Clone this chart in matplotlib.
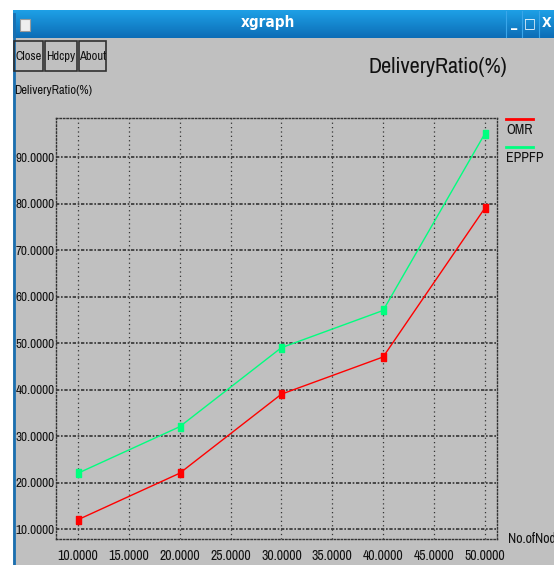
import matplotlib
matplotlib.use('Agg')
import matplotlib.pyplot as plt
import numpy as np
from matplotlib import font_manager as fm
from matplotlib.patches import Rectangle

nodes = [10, 20, 30, 40, 50]
omr = [12, 22, 39, 47, 79]
eppfp = [22, 32, 49, 57, 95]
xticks = [10, 15, 20, 25, 30, 35, 40, 45, 50]
yticks = [10, 20, 30, 40, 50, 60, 70, 80, 90]

W, H = 554, 565
installed = set(f.name for f in fm.fontManager.ttflist)
narrow = 'Liberation Sans Narrow' if 'Liberation Sans Narrow' in installed else 'Archivo Narrow'
plt.rcParams['font.family'] = [narrow, 'DejaVu Sans']

fig = plt.figure(figsize=(W / 100, H / 100), dpi=100)
fig.patch.set_facecolor('white')


def px(x, y):
    return x / W, 1 - y / H


# window body
fig.patches.append(Rectangle(px(13, H), (W - 13) / W, (H - 30) / H, transform=fig.transFigure,
                             facecolor='#c0c0c0', edgecolor='none', zorder=-10))
# title bar gradient
tb = fig.add_axes([13 / W, 1 - 38 / H, (W - 13) / W, 28 / H], zorder=-5)
grad = np.linspace(0, 1, 50).reshape(-1, 1)
cmap = matplotlib.colors.LinearSegmentedColormap.from_list('tb', ['#1ea0e6', '#0c6db6'])
tb.imshow(grad, aspect='auto', cmap=cmap, extent=[0, 1, 0, 1])
tb.set_axis_off()
fig.text(268 / W, 1 - 23 / H, 'xgraph', color='white', fontsize=11, fontweight='bold',
         fontstretch='condensed', ha='center', va='center', family=['DejaVu Sans'])
fig.patches.append(Rectangle(px(20, 31), 10 / W, 12 / H, transform=fig.transFigure,
                             facecolor='#eeeeee', edgecolor='#9a9a9a', lw=0.8, zorder=3))
for bx, s in [(514, '_'), (530, '□'), (547, 'X')]:
    fig.text(bx / W, 1 - 23 / H, s, color='white', fontsize=10, fontweight='bold',
             fontstretch='condensed', ha='center', va='center', family=['DejaVu Sans'])
for bx in [506, 522, 539]:
    fig.add_artist(plt.Line2D([bx / W, bx / W], [1 - 37 / H, 1 - 11 / H], color='#3aa6ea', lw=0.8))
fig.add_artist(plt.Line2D([13.5 / W, 13.5 / W], [0, 1 - 14 / H], color='#1a6fb0', lw=2))

# buttons
for x0, x1, lab in [(14, 43, 'Close'), (45, 77, 'Hdcpy'), (79, 106, 'About')]:
    fig.patches.append(Rectangle(px(x0, 71), (x1 - x0) / W, 30 / H, transform=fig.transFigure,
                                 facecolor='none', edgecolor='#303030', lw=1.2, zorder=3))
    fig.text((x0 + x1) / 2 / W, 1 - 56 / H, lab, fontsize=9, ha='center', va='center', color='#111111')

fig.text(14 / W, 1 - 91 / H, 'DeliveryRatio(%)', fontsize=9, ha='left', va='center', color='#111111')
fig.text(507 / W, 1 - 67 / H, 'DeliveryRatio(%)', fontsize=16, ha='right', va='center', color='#111111')

# plot area
ax = fig.add_axes([56 / W, 1 - 539 / H, 441 / W, 421 / H])
ax.set_facecolor('none')
ax.set_xlim(7.84, 51.2)
ax.set_ylim(7.85, 98.4)
for s in ax.spines.values():
    s.set_linestyle((0, (1, 1.5)))
    s.set_color('#333333')
    s.set_linewidth(1)
for v in xticks:
    ax.axvline(v, color='#333333', lw=0.9, ls=(0, (1, 2.5)), zorder=1)
for v in yticks:
    ax.axhline(v, color='#333333', lw=1.2, ls=(0, (2, 1, 1, 1)), zorder=1)
ax.set_xticks(xticks)
ax.set_xticklabels(['%.4f' % v for v in xticks])
ax.set_yticks(yticks)
ax.set_yticklabels(['%.4f' % v for v in yticks])
ax.tick_params(length=0, labelsize=9.5, colors='#111111')
ax.tick_params(axis='x', pad=7, labelsize=10)
ax.tick_params(axis='y', pad=1)

tall = [(-0.6, -1), (0.6, -1), (0.6, 1), (-0.6, 1), (-0.6, -1)]
ax.plot(nodes, omr, color='#ff0000', lw=1, marker=tall, markersize=6, zorder=3)
ax.plot(nodes, eppfp, color='#00ff7f', lw=1, marker=tall, markersize=6, zorder=3)

# legend at the right
fig.add_artist(plt.Line2D([506 / W, 533 / W], [1 - 119 / H] * 2, color='#ff0000', lw=2))
fig.text(506 / W, 1 - 130 / H, 'OMR', fontsize=10, ha='left', va='center', color='#111111')
fig.add_artist(plt.Line2D([506 / W, 533 / W], [1 - 147 / H] * 2, color='#00ff7f', lw=2))
fig.text(506 / W, 1 - 158 / H, 'EPPFP', fontsize=10, ha='left', va='center', color='#111111')
fig.text(508 / W, 1 - 539 / H, 'No.ofNodes', fontsize=10, ha='left', va='center', color='#111111')

fig.savefig('out.png', dpi=100)
